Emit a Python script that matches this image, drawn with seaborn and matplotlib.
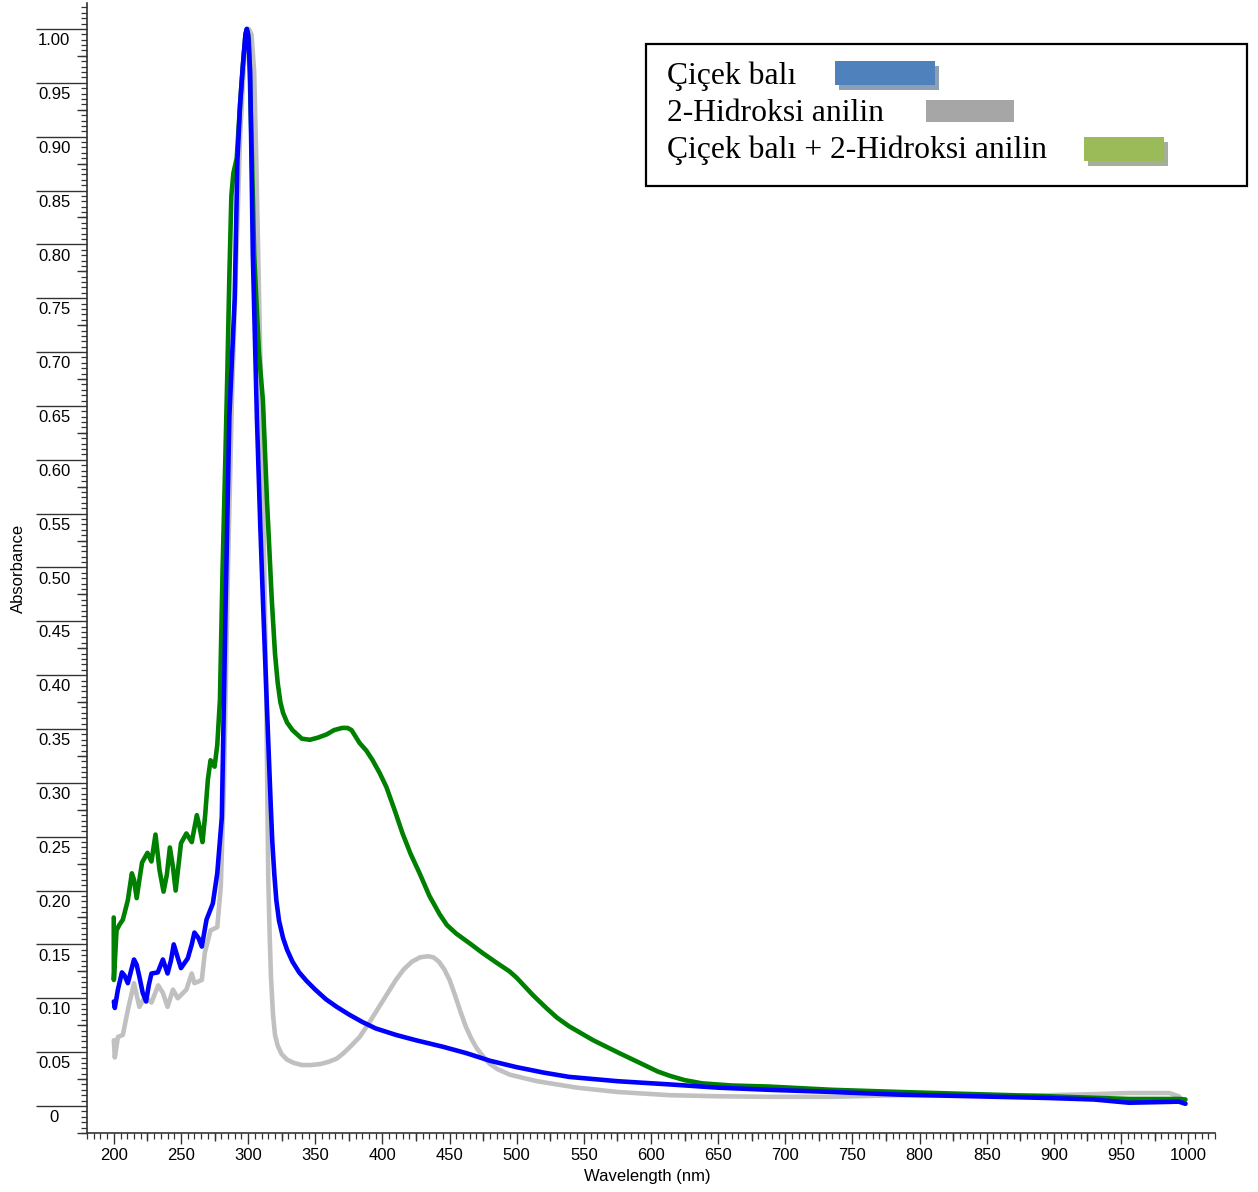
"""UV-Vis absorbance spectra: honey, 2-hydroxy aniline and their mixture"""
import numpy as np
import pandas as pd
import matplotlib
matplotlib.use('Agg')
import matplotlib.pyplot as plt
import matplotlib.transforms as mtransforms
from matplotlib.patches import Rectangle
from matplotlib.ticker import MultipleLocator, FixedLocator
import seaborn as sns

# Series labels
LABELS = ["Çiçek balı", "2-Hidroksi anilin", "Çiçek balı + 2-Hidroksi anilin"]

# Çiçek balı (blue)
honey_wl = [200, 200.7, 203, 206, 208, 210.4, 212.5, 215, 217, 219, 221.5, 224, 226, 228,
            232.7, 236.5, 240, 242.5, 244.6, 247, 250, 255, 258, 260, 263, 265.5, 269,
            273.7, 277, 280.4, 283, 286, 290, 292, 294, 296, 298, 299, 300, 301.5, 303.5,
            306.5, 309, 311, 314, 316.8, 318, 319.5, 321, 323, 326, 329, 333, 338, 343.6,
            350, 358, 366, 375, 385, 395, 410, 425, 445, 462.6, 480, 500, 520, 539, 575,
            614, 650, 688, 735, 785, 840, 896, 930, 956, 975, 993, 998]
honey_abs = [0.097, 0.091, 0.108, 0.124, 0.121, 0.114, 0.124, 0.136, 0.131, 0.120, 0.105,
             0.097, 0.112, 0.123, 0.124, 0.136, 0.123, 0.135, 0.150, 0.140, 0.128, 0.137,
             0.150, 0.161, 0.156, 0.148, 0.173, 0.188, 0.216, 0.268, 0.45, 0.64, 0.75,
             0.878, 0.93, 0.965, 0.995, 1.0, 0.995, 0.96, 0.79, 0.64, 0.54, 0.47, 0.37,
             0.28, 0.245, 0.215, 0.191, 0.172, 0.156, 0.145, 0.134, 0.124, 0.116, 0.108,
             0.099, 0.092, 0.085, 0.078, 0.072, 0.066, 0.061, 0.055, 0.049, 0.042, 0.036,
             0.031, 0.027, 0.023, 0.020, 0.017, 0.015, 0.013, 0.0105, 0.009, 0.0074, 0.006,
             0.003, 0.0035, 0.004, 0.002]

# 2-Hidroksi anilin (grey)
aniline_wl = [200, 200.7, 203, 206.7, 210.4, 215, 219, 223, 228, 233, 236.5, 240, 244, 247.6,
              254, 258, 260, 265.5, 267.7, 272, 277, 279.6, 282, 285, 288, 291, 294, 297,
              300.5, 302.5, 304.5, 306, 307.5, 310, 312, 313.5, 315, 316, 317, 318.5, 320,
              322, 325, 329, 334, 340, 347, 354, 360, 366, 371, 376, 383, 390, 397, 404, 410,
              416, 422, 428, 434, 438, 442, 446, 450, 454, 458, 462, 466, 470, 475, 480, 486,
              495, 505, 515, 530, 545, 575, 614, 650, 688, 735, 785, 840, 896, 930, 956, 986,
              993, 998]
aniline_abs = [0.061, 0.045, 0.064, 0.066, 0.089, 0.114, 0.092, 0.101, 0.096, 0.112, 0.105,
               0.092, 0.108, 0.100, 0.108, 0.123, 0.114, 0.117, 0.142, 0.163, 0.166, 0.203,
               0.30, 0.50, 0.66, 0.78, 0.90, 0.97, 1.0, 0.995, 0.96, 0.88, 0.79, 0.64, 0.50,
               0.38, 0.21, 0.16, 0.12, 0.085, 0.066, 0.056, 0.048, 0.043, 0.040, 0.038,
               0.038, 0.039, 0.041, 0.044, 0.049, 0.055, 0.064, 0.077, 0.091, 0.105, 0.117,
               0.127, 0.134, 0.138, 0.139, 0.138, 0.134, 0.127, 0.117, 0.103, 0.088, 0.074,
               0.063, 0.054, 0.046, 0.039, 0.034, 0.029, 0.026, 0.023, 0.020, 0.017, 0.013,
               0.010, 0.009, 0.0085, 0.0085, 0.010, 0.0095, 0.010, 0.011, 0.012, 0.012, 0.009,
               0.003]

# Çiçek balı + 2-Hidroksi anilin (green)
mix_wl = [199.9, 200, 202, 204, 206.7, 210.4, 213.4, 215, 217, 219, 221, 225, 228, 231, 234,
          237, 239.5, 241.7, 244, 246, 248, 250, 254, 258, 261.8, 264, 266, 268, 270, 272,
          273.5, 275, 277, 279, 281, 283, 284.5, 286, 287.5, 289, 291.5, 294, 296, 298, 299,
          300.5, 302.7, 304.5, 308, 311, 314, 317.6, 320, 322, 324, 326, 329, 333, 340, 346,
          352, 358.5, 364, 370, 374, 377, 380, 383, 388, 392.7, 398, 403, 409, 415, 421,
          427.7, 435, 442.6, 448, 455, 465, 474.6, 485, 494.6, 500, 506, 512, 522, 530, 539,
          557, 576.5, 595, 605, 614, 625, 638, 660, 688, 735, 785, 840, 896, 956, 993, 998]
mix_abs = [0.175, 0.117, 0.163, 0.168, 0.173, 0.191, 0.216, 0.210, 0.193, 0.210, 0.226,
           0.235, 0.227, 0.252, 0.219, 0.199, 0.215, 0.240, 0.222, 0.200, 0.222, 0.244, 0.253,
           0.245, 0.270, 0.258, 0.245, 0.270, 0.303, 0.321, 0.318, 0.315, 0.335, 0.377, 0.50,
           0.60, 0.68, 0.77, 0.845, 0.866, 0.88, 0.93, 0.965, 0.995, 1.0, 0.99, 0.888, 0.79,
           0.70, 0.655, 0.563, 0.47, 0.42, 0.393, 0.375, 0.365, 0.356, 0.349, 0.341, 0.340,
           0.342, 0.345, 0.349, 0.351, 0.351, 0.349, 0.343, 0.337, 0.330, 0.321, 0.309,
           0.296, 0.275, 0.253, 0.234, 0.216, 0.195, 0.178, 0.168, 0.160, 0.151, 0.142,
           0.133, 0.125, 0.119, 0.111, 0.103, 0.091, 0.082, 0.074, 0.061, 0.049, 0.038,
           0.032, 0.028, 0.024, 0.021, 0.019, 0.018, 0.015, 0.013, 0.011, 0.009, 0.0065,
           0.0065, 0.006]

W, H = 1258, 1192


def fx(px):
    return px / W


def fy(py):
    return 1 - py / H


sns.set_style("ticks")
plt.rcParams['font.family'] = ['Liberation Sans', 'DejaVu Sans']
plt.rcParams['font.size'] = 12
plt.rcParams['text.color'] = 'black'
plt.rcParams['axes.labelcolor'] = 'black'
plt.rcParams['xtick.color'] = 'black'
plt.rcParams['ytick.color'] = 'black'

fig = plt.figure(figsize=(W / 100, H / 100), dpi=100)
ax = fig.add_axes([fx(87), fy(1133), fx(1215) - fx(87), fy(3) - fy(1133)])

# grey first, then green, blue on top
for wl, ab, col in [(aniline_wl, aniline_abs, '#c0c0c0'),
                    (mix_wl, mix_abs, '#008000'),
                    (honey_wl, honey_abs, '#0000ff')]:
    df = pd.DataFrame({'wl': wl, 'abs': ab})
    sns.lineplot(data=df, x='wl', y='abs', ax=ax, color=col, lw=3.3,
                 sort=False, estimator=None, solid_joinstyle='round',
                 solid_capstyle='round')

ax.set_xlim(180, 1020)
ax.set_ylim(-0.0251, 1.0241)

axis_col = '#333333'
for side in ['top', 'right']:
    ax.spines[side].set_visible(False)
for side in ['left', 'bottom']:
    ax.spines[side].set_color(axis_col)
    ax.spines[side].set_linewidth(1.2)

# y ticks: long major lines with labels tucked beneath them
yt = np.round(np.arange(0, 1.0001, 0.05), 2)
ax.yaxis.set_major_locator(FixedLocator(yt))
ax.set_yticklabels(['0'] + [f'{v:.2f}' for v in yt[1:]])
ax.yaxis.set_minor_locator(MultipleLocator(0.005))
ax.tick_params(axis='y', which='major', left=True, direction='out', length=36.5, width=1.0,
               color=axis_col, pad=-13, labelsize=12, labelcolor='black')
ax.tick_params(axis='y', which='minor', left=True, direction='out', length=4.3, width=0.9,
               color=axis_col)

# x ticks
ax.xaxis.set_major_locator(MultipleLocator(50))
ax.xaxis.set_minor_locator(MultipleLocator(5))
ax.tick_params(axis='x', which='major', bottom=True, direction='out', length=8, width=1.0,
               color=axis_col, pad=3, labelsize=12, labelcolor='black')
ax.tick_params(axis='x', which='minor', bottom=True, direction='out', length=4.3, width=0.9,
               color=axis_col)

# medium ticks halfway between labels
sec_y = ax.secondary_yaxis('left')
sec_y.yaxis.set_major_locator(FixedLocator(np.arange(-0.025, 1.03, 0.05)))
sec_y.tick_params(length=7, width=1.0, color=axis_col, labelleft=False)
sec_y.spines['left'].set_visible(False)
sec_x = ax.secondary_xaxis('bottom')
sec_x.xaxis.set_major_locator(FixedLocator(np.arange(175, 1025, 50)))
sec_x.tick_params(length=5.8, width=1.0, color=axis_col, labelbottom=False)
sec_x.spines['bottom'].set_visible(False)

ax.set_xlabel('Wavelength (nm)', fontsize=12)
ax.set_ylabel('Absorbance', fontsize=12)
ax.xaxis.set_label_coords(0.497, -0.032)
ax.yaxis.set_label_coords(-0.054, 0.5)

# legend box drawn like the original (text with colour swatches)
fig.patches.append(Rectangle((fx(646), fy(186)), fx(1247) - fx(646), fy(44) - fy(186),
                             transform=fig.transFigure, fill=False, ec='black', lw=1.6))
swatches = [
    ((835, 61, 935, 85), '#4f81bd', '#8e9fb3'),
    ((926, 100, 1014, 122), '#a6a6a6', None),
    ((1084, 137, 1164, 161), '#9bbb59', '#a5ae98'),
]
baselines = [84, 121, 158]
for (x0, y0, x1, y1), col, shadow in swatches:
    if shadow:
        fig.patches.append(Rectangle((fx(x0 + 4), fy(y1 + 5)), fx(x1) - fx(x0), fy(y0) - fy(y1),
                                     transform=fig.transFigure, color=shadow, lw=0))
    fig.patches.append(Rectangle((fx(x0), fy(y1)), fx(x1) - fx(x0), fy(y0) - fy(y1),
                                 transform=fig.transFigure, color=col, lw=0))
for label, yb in zip(LABELS, baselines):
    fig.text(fx(667), fy(yb), label, family=['Liberation Serif', 'DejaVu Serif'],
             fontsize=22.8, va='baseline', ha='left', color='black')

# push y labels a little below their tick line, centred under it
shift = mtransforms.ScaledTranslation(0, -3 / 72, fig.dpi_scale_trans)
for tick in ax.yaxis.get_major_ticks():
    tick.label1.set_horizontalalignment('center')
    tick.label1.set_verticalalignment('top')
    tick.label1.set_transform(tick.label1.get_transform() + shift)

fig.savefig('out.png', dpi=100, facecolor='white')
